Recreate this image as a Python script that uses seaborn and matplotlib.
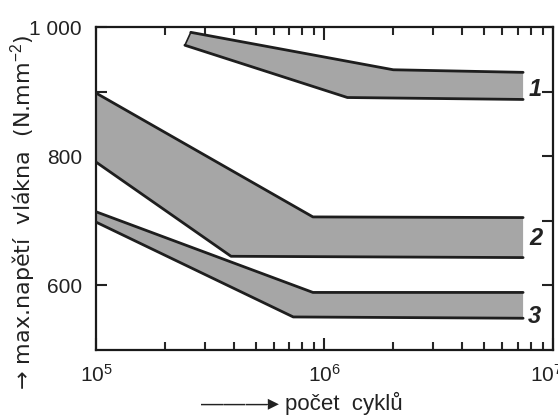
import matplotlib
matplotlib.use("Agg")
import matplotlib.pyplot as plt
import matplotlib.transforms as mtransforms
import seaborn as sns
from matplotlib.ticker import LogLocator, NullFormatter, FixedLocator

sns.set_style("white")
plt.rcParams['font.family'] = ['Liberation Sans', 'DejaVu Sans']
plt.rcParams['mathtext.fontset'] = 'custom'
plt.rcParams['mathtext.rm'] = 'Liberation Sans'
plt.rcParams['mathtext.it'] = 'Liberation Sans:italic'

# band 1
b1_upper_x = [2.6e5, 2.0e6, 7.4e6]
b1_upper_y = [992, 934, 930]
b1_lower_x = [2.45e5, 1.26e6, 7.4e6]
b1_lower_y = [972, 891, 888]
# band 2
b2_upper_x = [1e5, 8.9e5, 7.4e6]
b2_upper_y = [898, 706, 705]
b2_lower_x = [1e5, 3.9e5, 7.4e6]
b2_lower_y = [791, 645, 643]
# band 3
b3_upper_x = [1e5, 8.9e5, 7.4e6]
b3_upper_y = [714, 589, 589]
b3_lower_x = [1e5, 7.3e5, 7.4e6]
b3_lower_y = [698, 551, 549]

band_labels = ['1', '2', '3']
label_x = [8.4e6, 8.4e6, 8.3e6]
label_y = [903, 672, 552]

ytick_vals = [600, 700, 800, 900, 1000]
ytick_labels = ['600', '', '800', '', '1 000']

fig = plt.figure(figsize=(5.58, 4.18), dpi=100)
ax = fig.add_axes([0.172, 0.163, 0.819, 0.772])

bands = [(b1_upper_x, b1_upper_y, b1_lower_x, b1_lower_y),
         (b2_upper_x, b2_upper_y, b2_lower_x, b2_lower_y),
         (b3_upper_x, b3_upper_y, b3_lower_x, b3_lower_y)]

fill_c = '#a6a6a6'
line_c = '#1e1e1e'
for ux, uy, lx, ly in bands:
    px = ux + lx[::-1]
    py = uy + ly[::-1]
    ax.fill(px, py, color=fill_c, lw=0, zorder=1)
    ax.plot([ux[0], lx[0]], [uy[0], ly[0]], color=line_c, lw=1.2, zorder=2)
    sns.lineplot(x=ux, y=uy, sort=False, ax=ax, color=line_c, lw=2.0, zorder=3)
    sns.lineplot(x=lx, y=ly, sort=False, ax=ax, color=line_c, lw=2.0, zorder=3)

for t, x, y in zip(band_labels, label_x, label_y):
    ax.text(x, y, t, fontsize=17, fontstyle='italic', fontweight='bold',
            ha='center', va='center', color='#222222')

ax.set_xscale('log')
ax.set_xlim(1e5, 1e7)
ax.set_ylim(500, 1000)
ax.set_xticks([1e5, 1e6, 1e7])
ax.set_xticklabels([r'$10^5$', r'$10^6$', r'$10^7$'])
ax.xaxis.set_minor_locator(LogLocator(base=10, subs=range(2, 10)))
ax.xaxis.set_minor_formatter(NullFormatter())
ax.yaxis.set_major_locator(FixedLocator(ytick_vals))
ax.set_yticklabels(ytick_labels)

ax.tick_params(axis='x', which='major', direction='in', length=9, width=1.5,
               top=True, bottom=True, labelsize=15, pad=10, colors='#222222')
ax.tick_params(axis='x', which='minor', direction='in', length=6, width=1.5,
               top=True, bottom=True)
ax.tick_params(axis='y', which='major', direction='in', length=8, width=1.5,
               left=True, right=True, labelsize=15, pad=10, colors='#222222')

for s in ax.spines.values():
    s.set_linewidth(1.6)
    s.set_color('#1a1a1a')

# shift the 10^7 label slightly left, as in the reference
lbl7 = ax.get_xticklabels()[2]
lbl7.set_transform(lbl7.get_transform() +
                   mtransforms.ScaledTranslation(-0.07, 0, fig.dpi_scale_trans))

fig.text(23 / 558, 1 - 212 / 418,
         '\u2192 max.nap\u011bt\u00ed  vl\u00e1kna  (N.mm$^{-2}$)',
         rotation=90, ha='center', va='center', fontsize=16,
         family=['DejaVu Sans'], color='#222222')
fig.text(302 / 558, 1 - 403 / 418,
         '\u2014\u2014\u2014\u25b8 po\u010det  cykl\u016f',
         ha='center', va='center', fontsize=16, color='#222222')

fig.savefig('out.png', dpi=100, facecolor='white')
